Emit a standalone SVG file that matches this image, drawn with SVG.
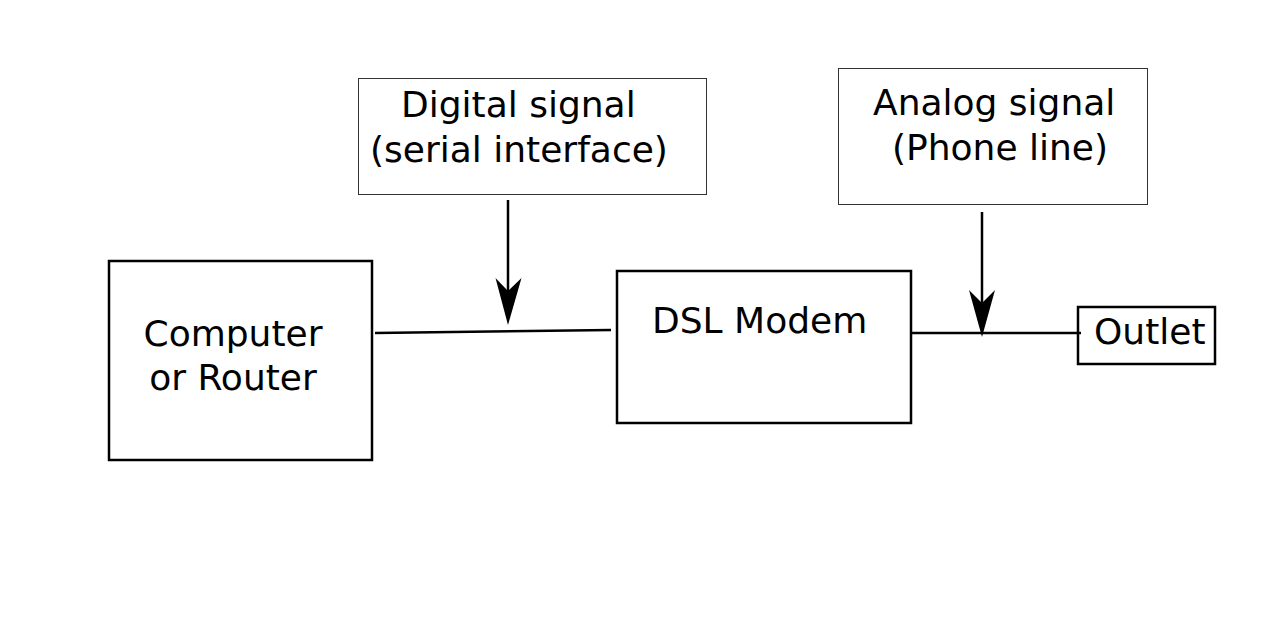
<svg xmlns="http://www.w3.org/2000/svg" width="1280" height="643" viewBox="0 0 1280 643">
<style>
.box{fill:#fff;stroke:#000;stroke-width:2.5}
.lbl{fill:#fff;stroke:#333;stroke-width:1}
.t{font-family:"DejaVu Sans",sans-serif;font-size:36px;fill:#000}
.ln{stroke:#000;stroke-width:2.5;fill:none}
.ah{fill:#000}
</style>
<rect width="1280" height="643" fill="#fff"/>
<g id="computer"><rect class="box" x="109" y="261" width="263" height="199"/>
<text class="t" x="233" y="346" text-anchor="middle">Computer</text>
<text class="t" x="233" y="390" text-anchor="middle">or Router</text></g>
<g id="modem"><rect class="box" x="617" y="271" width="294" height="152"/>
<text class="t" x="652" y="333">DSL Modem</text></g>
<g id="outlet"><rect class="box" x="1078" y="307" width="137" height="57"/>
<text class="t" x="1094" y="344">Outlet</text></g>
<g id="digital"><rect class="lbl" x="358.5" y="78.5" width="348" height="116"/>
<text class="t" x="401" y="117">Digital signal</text>
<text class="t" x="370" y="162">(serial interface)</text></g>
<g id="analog"><rect class="lbl" x="838.5" y="68.5" width="309" height="136"/>
<text class="t" x="873" y="115">Analog signal</text>
<text class="t" x="892" y="160">(Phone line)</text></g>
<g id="connectors">
<line class="ln" x1="375" y1="333" x2="611" y2="330"/>
<line class="ln" x1="911" y1="333" x2="1081" y2="333"/>
<line class="ln" x1="508" y1="200" x2="508" y2="295"/>
<path class="ah" d="M508,325 L495.5,278 L508,291 L521.5,278 Z"/>
<line class="ln" x1="982" y1="212" x2="982" y2="305"/>
<path class="ah" d="M982,337 L969,290 L982,303 L995,290 Z"/>
</g>
</svg>
